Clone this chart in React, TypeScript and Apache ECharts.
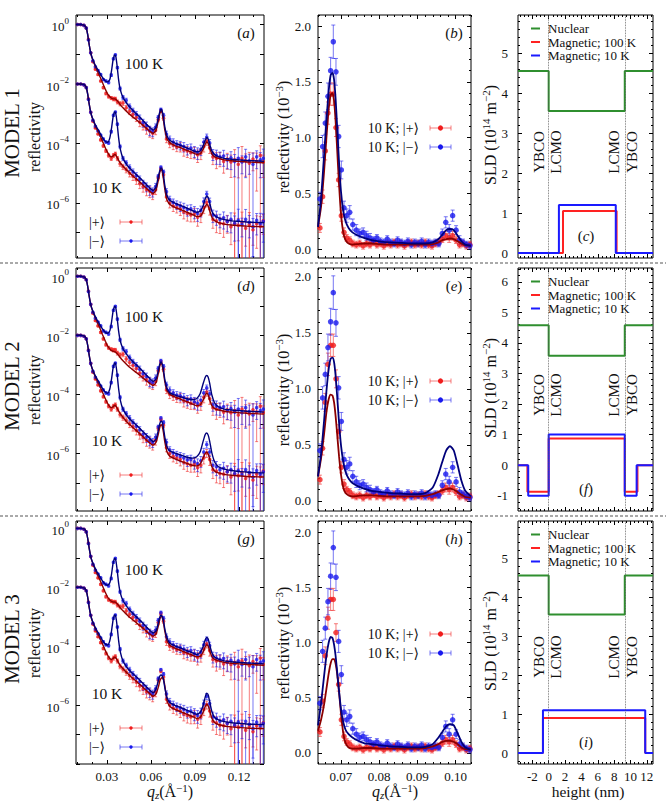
import React, { useEffect, useRef } from 'react';
import * as echarts from 'echarts';

const FONT = "'Liberation Serif', 'DejaVu Serif', 'DejaVu Sans', serif";

// ---------- measured reflectivity, log panels (log10 R) ----------
const Q_DATA = [
  0.0100, 0.0122, 0.0144, 0.0160, 0.0175, 0.0190, 0.0205, 0.0222, 0.0240, 0.0258,
  0.0276, 0.0294, 0.0312, 0.0330, 0.0345, 0.0358, 0.0372, 0.0390, 0.0410, 0.0432,
  0.0455, 0.0478, 0.0501, 0.0524, 0.0547, 0.0570, 0.0592, 0.0612, 0.0632, 0.0650,
  0.0668, 0.0686, 0.0706, 0.0728, 0.0752, 0.0776, 0.0800, 0.0824, 0.0848, 0.0872,
  0.0896, 0.0918, 0.0940, 0.0960, 0.0980, 0.1000, 0.1022, 0.1046, 0.1070, 0.1095,
  0.1120, 0.1145, 0.1170, 0.1195, 0.1220, 0.1245, 0.1270, 0.1295, 0.1320, 0.1345,
  0.1365,
];
const LOG_R_100K_PLUS = [
  0.00, 0.00, -0.03, -0.12, -0.50, -0.95, -1.25, -1.50, -1.68, -1.90,
  -2.12, -2.32, -2.42, -2.47, -2.50, -2.50, -2.60, -2.66, -2.64, -2.80,
  -2.92, -3.02, -3.12, -3.28, -3.38, -3.50, -3.58, -3.65, -3.55, -3.20,
  -2.90, -3.15, -3.85, -4.00, -4.05, -4.12, -4.10, -4.22, -4.25, -4.30,
  -4.28, -4.38, -4.32, -4.10, -3.92, -4.15, -4.45, -4.50, -4.48, -4.60,
  -4.52, -4.62, -4.55, -4.70, -4.50, -4.58, -4.66, -4.52, -4.60, -4.40,
  -4.62,
];
const LOG_R_100K_MINUS = [
  0.00, 0.00, -0.03, -0.12, -0.52, -0.95, -1.22, -1.42, -1.55, -1.68,
  -1.85, -1.90, -1.95, -1.70, -1.15, -1.02, -1.45, -2.15, -2.45, -2.55,
  -2.75, -2.90, -3.02, -3.15, -3.30, -3.40, -3.55, -3.60, -3.45, -3.12,
  -2.86, -3.05, -3.68, -3.85, -3.95, -4.02, -4.05, -4.10, -4.18, -4.15,
  -4.25, -4.30, -4.20, -3.95, -3.78, -3.98, -4.35, -4.40, -4.45, -4.42,
  -4.55, -4.48, -4.60, -4.50, -4.62, -4.45, -4.58, -4.70, -4.45, -4.55,
  -4.50,
];
const LOG_R_10K_PLUS = [
  0.00, 0.00, -0.03, -0.12, -0.50, -0.95, -1.25, -1.48, -1.68, -1.88,
  -2.08, -2.25, -2.40, -2.50, -2.40, -2.35, -2.50, -2.68, -2.78, -2.88,
  -3.00, -3.10, -3.22, -3.35, -3.45, -3.55, -3.60, -3.68, -3.55, -3.15,
  -2.85, -3.05, -3.80, -4.00, -4.10, -4.15, -4.20, -4.30, -4.35, -4.40,
  -4.35, -4.48, -4.40, -4.15, -3.98, -4.20, -4.55, -4.60, -4.68, -4.70,
  -4.62, -4.80, -4.70, -4.75, -4.65, -4.85, -4.72, -4.90, -4.70, -4.78,
  -4.60,
];
const LOG_R_10K_MINUS = [
  0.00, 0.00, -0.03, -0.12, -0.52, -0.95, -1.22, -1.42, -1.58, -1.72,
  -1.85, -1.95, -1.98, -1.60, -1.05, -0.94, -1.35, -2.10, -2.50, -2.65,
  -2.80, -2.95, -3.08, -3.20, -3.35, -3.45, -3.55, -3.62, -3.45, -3.10,
  -2.80, -2.95, -3.62, -3.88, -3.98, -4.05, -4.10, -4.15, -4.22, -4.20,
  -4.28, -4.35, -4.25, -3.95, -3.70, -3.95, -4.40, -4.45, -4.55, -4.50,
  -4.62, -4.55, -4.68, -4.58, -4.72, -4.55, -4.65, -4.80, -4.58, -4.70,
  -4.62,
];
// relative uncertainties (sigma / R)
const REL_ERR_100K_PLUS = [
  0.02, 0.02, 0.02, 0.02, 0.03, 0.03, 0.04, 0.05, 0.06, 0.07, 0.08, 0.10, 0.12,
  0.12, 0.14, 0.14, 0.15, 0.16, 0.18,
  0.20, 0.22, 0.25, 0.28, 0.30, 0.32, 0.35, 0.38, 0.35,
  0.30, 0.15, 0.12, 0.15,
  0.25, 0.28, 0.30, 0.30, 0.35, 0.38, 0.40, 0.38, 0.42, 0.45, 0.40,
  0.35, 0.28, 0.35,
  0.45, 0.55, 0.50, 0.60, 0.55, 0.70, 1.20, 0.65, 1.50, 0.70, 1.30, 0.60, 0.90, 1.10, 0.70,
];
const REL_ERR_100K_MINUS = [
  0.02, 0.02, 0.02, 0.02, 0.03, 0.03, 0.04, 0.05, 0.06, 0.07, 0.08, 0.09, 0.10,
  0.10, 0.08, 0.06, 0.08, 0.12, 0.16,
  0.18, 0.20, 0.22, 0.25, 0.28, 0.30, 0.32, 0.35, 0.33,
  0.28, 0.15, 0.12, 0.15,
  0.24, 0.26, 0.28, 0.30, 0.32, 0.35, 0.38, 0.36, 0.40, 0.42, 0.38,
  0.30, 0.25, 0.30,
  0.40, 0.50, 0.45, 0.55, 0.50, 0.60, 0.70, 1.30, 0.60, 0.80, 0.65, 1.40, 0.60, 0.75, 1.05,
];
const REL_ERR_10K_PLUS = [
  0.02, 0.02, 0.02, 0.02, 0.03, 0.03, 0.04, 0.05, 0.06, 0.07, 0.09, 0.11, 0.13,
  0.15, 0.16, 0.15, 0.16, 0.18, 0.20,
  0.22, 0.25, 0.28, 0.30, 0.32, 0.35, 0.38, 0.40, 0.38,
  0.32, 0.16, 0.12, 0.16,
  0.28, 0.32, 0.35, 0.35, 0.40, 0.42, 0.45, 0.42, 0.48, 0.50, 0.45,
  0.38, 0.30, 0.38,
  0.50, 0.60, 0.55, 0.65, 0.60, 0.75, 1.30, 0.70, 1.20, 0.75, 1.50, 0.70, 0.85, 1.10, 0.65,
];
const REL_ERR_10K_MINUS = [
  0.02, 0.02, 0.02, 0.02, 0.03, 0.03, 0.04, 0.05, 0.06, 0.07, 0.08, 0.09, 0.10,
  0.10, 0.08, 0.06, 0.08, 0.12, 0.16,
  0.18, 0.21, 0.24, 0.26, 0.28, 0.30, 0.33, 0.36, 0.34,
  0.28, 0.14, 0.11, 0.14,
  0.26, 0.28, 0.30, 0.32, 0.35, 0.38, 0.40, 0.38, 0.44, 0.46, 0.40,
  0.32, 0.24, 0.30,
  0.45, 0.50, 0.48, 0.58, 0.55, 0.65, 0.75, 1.35, 0.62, 1.15, 0.70, 0.90, 0.68, 1.25, 0.80,
];

// ---------- model fits, log panels (log10 R) ----------
const Q_FIT = [
  0.0090, 0.0120, 0.0140, 0.0150, 0.0160, 0.0170, 0.0180, 0.0190, 0.0200, 0.0215,
  0.0230, 0.0250, 0.0270, 0.0290, 0.0305, 0.0320, 0.0332, 0.0342, 0.0350, 0.0356,
  0.0362, 0.0370, 0.0380, 0.0392, 0.0410, 0.0440, 0.0470, 0.0500, 0.0530, 0.0560,
  0.0590, 0.0615, 0.0635, 0.0650, 0.0660, 0.0668, 0.0676, 0.0685, 0.0695, 0.0710,
  0.0730, 0.0760, 0.0800, 0.0840, 0.0880, 0.0910, 0.0935, 0.0955, 0.0970, 0.0980,
  0.0990, 0.1000, 0.1015, 0.1035, 0.1060, 0.1100, 0.1150, 0.1200, 0.1250, 0.1300,
  0.1370,
];
const FIT1_100K_PLUS = [
  0.00, 0.00, -0.01, -0.04, -0.12, -0.35, -0.68, -0.95, -1.13, -1.33,
  -1.50, -1.72, -1.95, -2.18, -2.33, -2.43, -2.48, -2.50, -2.50, -2.50,
  -2.52, -2.56, -2.62, -2.70, -2.80, -2.95, -3.08, -3.20, -3.32, -3.45,
  -3.58, -3.66, -3.55, -3.25, -3.00, -2.90, -2.95, -3.20, -3.55, -3.85,
  -3.98, -4.06, -4.14, -4.22, -4.30, -4.36, -4.35, -4.20, -4.02, -3.95,
  -4.00, -4.15, -4.35, -4.45, -4.50, -4.55, -4.58, -4.60, -4.62, -4.63,
  -4.65,
];
const FIT1_100K_MINUS = [
  0.00, 0.00, -0.01, -0.04, -0.12, -0.35, -0.68, -0.95, -1.12, -1.30,
  -1.45, -1.62, -1.78, -1.90, -1.93, -1.85, -1.55, -1.20, -1.05, -1.02,
  -1.10, -1.40, -1.85, -2.20, -2.45, -2.68, -2.85, -3.00, -3.14, -3.30,
  -3.45, -3.55, -3.45, -3.15, -2.95, -2.85, -2.90, -3.10, -3.45, -3.75,
  -3.90, -3.98, -4.06, -4.14, -4.22, -4.28, -4.25, -4.08, -3.88, -3.80,
  -3.85, -4.02, -4.25, -4.38, -4.44, -4.50, -4.53, -4.55, -4.57, -4.58,
  -4.60,
];
const FIT1_10K_PLUS = [
  0.00, 0.00, -0.01, -0.04, -0.12, -0.35, -0.68, -0.95, -1.13, -1.33,
  -1.50, -1.70, -1.92, -2.15, -2.30, -2.42, -2.45, -2.42, -2.38, -2.37,
  -2.40, -2.47, -2.56, -2.66, -2.76, -2.92, -3.06, -3.19, -3.32, -3.46,
  -3.60, -3.68, -3.56, -3.25, -2.98, -2.87, -2.92, -3.18, -3.55, -3.90,
  -4.05, -4.14, -4.22, -4.30, -4.38, -4.45, -4.45, -4.30, -4.12, -4.05,
  -4.10, -4.25, -4.48, -4.60, -4.66, -4.71, -4.74, -4.76, -4.78, -4.79,
  -4.80,
];
const FIT1_10K_MINUS = [
  0.00, 0.00, -0.01, -0.04, -0.12, -0.35, -0.68, -0.95, -1.12, -1.30,
  -1.45, -1.62, -1.80, -1.93, -1.96, -1.82, -1.48, -1.12, -0.97, -0.94,
  -1.02, -1.32, -1.80, -2.20, -2.50, -2.74, -2.90, -3.04, -3.18, -3.33,
  -3.48, -3.58, -3.46, -3.12, -2.92, -2.82, -2.86, -3.05, -3.42, -3.76,
  -3.92, -4.00, -4.08, -4.16, -4.25, -4.31, -4.28, -4.10, -3.86, -3.76,
  -3.82, -4.00, -4.28, -4.43, -4.50, -4.56, -4.60, -4.62, -4.64, -4.65,
  -4.66,
];
const FIT2_100K_PLUS = [
  0.00, 0.00, -0.01, -0.04, -0.12, -0.35, -0.68, -0.95, -1.13, -1.33,
  -1.50, -1.73, -1.97, -2.20, -2.36, -2.46, -2.52, -2.54, -2.55, -2.56,
  -2.58, -2.62, -2.68, -2.76, -2.86, -3.01, -3.14, -3.26, -3.38, -3.50,
  -3.62, -3.70, -3.60, -3.30, -3.05, -2.95, -3.00, -3.24, -3.58, -3.88,
  -4.00, -4.08, -4.16, -4.24, -4.32, -4.38, -4.36, -4.20, -4.02, -3.96,
  -4.02, -4.18, -4.38, -4.48, -4.53, -4.57, -4.60, -4.62, -4.64, -4.65,
  -4.67,
];
const FIT2_100K_MINUS = [
  0.00, 0.00, -0.01, -0.04, -0.12, -0.35, -0.68, -0.95, -1.12, -1.30,
  -1.45, -1.62, -1.78, -1.90, -1.93, -1.85, -1.55, -1.20, -1.05, -1.02,
  -1.10, -1.40, -1.85, -2.20, -2.45, -2.68, -2.85, -3.00, -3.14, -3.30,
  -3.45, -3.56, -3.48, -3.20, -2.98, -2.90, -2.95, -3.15, -3.50, -3.80,
  -3.95, -4.02, -4.08, -4.14, -4.18, -4.15, -3.98, -3.65, -3.42, -3.36,
  -3.42, -3.62, -4.02, -4.30, -4.42, -4.50, -4.53, -4.55, -4.57, -4.58,
  -4.60,
];
const FIT2_10K_PLUS = [
  0.00, 0.00, -0.01, -0.04, -0.12, -0.35, -0.68, -0.95, -1.13, -1.33,
  -1.50, -1.70, -1.92, -2.15, -2.30, -2.42, -2.45, -2.42, -2.38, -2.37,
  -2.40, -2.47, -2.56, -2.66, -2.78, -2.95, -3.09, -3.22, -3.36, -3.50,
  -3.64, -3.72, -3.62, -3.35, -3.12, -3.03, -3.06, -3.28, -3.62, -3.95,
  -4.10, -4.18, -4.26, -4.33, -4.40, -4.42, -4.36, -4.16, -4.00, -3.96,
  -4.02, -4.18, -4.45, -4.60, -4.66, -4.71, -4.74, -4.76, -4.78, -4.79,
  -4.80,
];
const FIT2_10K_MINUS = [
  0.00, 0.00, -0.01, -0.04, -0.12, -0.35, -0.68, -0.95, -1.12, -1.30,
  -1.45, -1.62, -1.80, -1.93, -1.96, -1.82, -1.48, -1.12, -0.97, -0.94,
  -1.02, -1.32, -1.80, -2.20, -2.50, -2.74, -2.90, -3.04, -3.18, -3.33,
  -3.48, -3.60, -3.52, -3.22, -3.00, -2.90, -2.93, -3.12, -3.46, -3.78,
  -3.92, -3.98, -4.05, -4.12, -4.16, -4.12, -3.95, -3.60, -3.36, -3.31,
  -3.38, -3.58, -3.98, -4.30, -4.45, -4.53, -4.58, -4.61, -4.63, -4.65,
  -4.66,
];
const FIT3_100K_PLUS = [
  0.00, 0.00, -0.01, -0.04, -0.12, -0.35, -0.68, -0.95, -1.13, -1.33,
  -1.50, -1.72, -1.95, -2.18, -2.33, -2.43, -2.48, -2.50, -2.50, -2.50,
  -2.52, -2.56, -2.62, -2.70, -2.80, -2.95, -3.08, -3.20, -3.32, -3.45,
  -3.58, -3.66, -3.58, -3.32, -3.10, -3.00, -3.00, -3.18, -3.50, -3.82,
  -3.98, -4.06, -4.14, -4.22, -4.30, -4.36, -4.35, -4.20, -4.02, -3.95,
  -4.00, -4.15, -4.35, -4.45, -4.50, -4.55, -4.58, -4.60, -4.62, -4.63,
  -4.65,
];
const FIT3_100K_MINUS = [
  0.00, 0.00, -0.01, -0.04, -0.12, -0.35, -0.68, -0.95, -1.12, -1.30,
  -1.45, -1.62, -1.78, -1.90, -1.93, -1.85, -1.55, -1.20, -1.05, -1.02,
  -1.10, -1.40, -1.85, -2.20, -2.45, -2.68, -2.85, -3.00, -3.14, -3.30,
  -3.45, -3.55, -3.48, -3.22, -3.02, -2.95, -2.98, -3.12, -3.42, -3.72,
  -3.90, -3.98, -4.06, -4.14, -4.22, -4.28, -4.22, -4.02, -3.78, -3.70,
  -3.76, -3.95, -4.22, -4.38, -4.44, -4.50, -4.53, -4.55, -4.57, -4.58,
  -4.60,
];
const FIT3_10K_PLUS = [
  0.00, 0.00, -0.01, -0.04, -0.12, -0.35, -0.68, -0.95, -1.13, -1.33,
  -1.50, -1.70, -1.92, -2.15, -2.30, -2.42, -2.45, -2.42, -2.38, -2.37,
  -2.40, -2.47, -2.56, -2.66, -2.76, -2.92, -3.06, -3.19, -3.32, -3.46,
  -3.60, -3.70, -3.62, -3.40, -3.20, -3.10, -3.07, -3.10, -3.35, -3.85,
  -4.05, -4.14, -4.22, -4.30, -4.38, -4.45, -4.42, -4.25, -4.05, -3.97,
  -4.02, -4.18, -4.45, -4.60, -4.66, -4.71, -4.74, -4.76, -4.78, -4.79,
  -4.80,
];
const FIT3_10K_MINUS = [
  0.00, 0.00, -0.01, -0.04, -0.12, -0.35, -0.68, -0.95, -1.12, -1.30,
  -1.45, -1.62, -1.80, -1.93, -1.96, -1.82, -1.48, -1.12, -0.97, -0.94,
  -1.02, -1.32, -1.80, -2.20, -2.50, -2.74, -2.90, -3.04, -3.18, -3.33,
  -3.48, -3.58, -3.45, -3.18, -3.02, -2.98, -3.00, -3.12, -3.42, -3.75,
  -3.92, -4.00, -4.08, -4.16, -4.25, -4.31, -4.25, -4.02, -3.72, -3.60,
  -3.65, -3.88, -4.22, -4.43, -4.50, -4.56, -4.60, -4.62, -4.64, -4.65,
  -4.66,
];

// ---------- 10 K data around the first Bragg peaks (units of 1e-3) ----------
const Q_LIN = [
  0.0645, 0.0652, 0.0659, 0.0666, 0.0673, 0.0680, 0.0687, 0.0694, 0.0701, 0.0708,
  0.0715, 0.0723, 0.0731, 0.0740, 0.0749, 0.0758, 0.0767, 0.0776, 0.0785, 0.0794,
  0.0803, 0.0812, 0.0821, 0.0830, 0.0839, 0.0848, 0.0857, 0.0866, 0.0875, 0.0884,
  0.0893, 0.0902, 0.0911, 0.0920, 0.0929, 0.0938, 0.0947, 0.0956, 0.0965, 0.0974,
  0.0983, 0.0992, 0.1001, 0.1010, 0.1019, 0.1028, 0.1037,
];
const LIN_10K_MINUS = [
  0.45, 0.92, 1.13, 1.37, 1.60, 1.86, 1.59, 1.01, 0.71, 0.37,
  0.30, 0.33, 0.22, 0.17, 0.14, 0.15, 0.12, 0.10, 0.08, 0.10,
  0.07, 0.06, 0.09, 0.06, 0.05, 0.08, 0.06, 0.05, 0.07, 0.04,
  0.06, 0.05, 0.07, 0.04, 0.06, 0.05, 0.06, 0.05, 0.14, 0.24,
  0.17, 0.30, 0.17, 0.08, 0.06, 0.04, 0.03,
];
const LIN_10K_PLUS = [
  0.19, 0.47, 0.88, 1.22, 1.39, 1.39, 1.09, 0.62, 0.30, 0.15,
  0.10, 0.08, 0.05, 0.04, 0.05, 0.03, 0.05, 0.04, 0.06, 0.04,
  0.05, 0.03, 0.05, 0.04, 0.06, 0.04, 0.05, 0.03, 0.05, 0.06,
  0.04, 0.05, 0.04, 0.06, 0.04, 0.03, 0.05, 0.06, 0.09, 0.12,
  0.10, 0.12, 0.08, 0.04, 0.05, 0.03, 0.04,
];
const LIN_ERR_MINUS = [
  0.06, 0.10, 0.10, 0.12, 0.12, 0.15, 0.12, 0.10, 0.08, 0.06,
  0.06, 0.06, 0.05, 0.05, 0.04, 0.04, 0.04, 0.04, 0.03, 0.03,
  0.03, 0.03, 0.03, 0.03, 0.03, 0.03, 0.03, 0.03, 0.03, 0.03,
  0.03, 0.03, 0.03, 0.03, 0.03, 0.03, 0.03, 0.03, 0.04, 0.05,
  0.05, 0.05, 0.04, 0.04, 0.03, 0.03, 0.03,
];
const LIN_ERR_PLUS = [
  0.04, 0.06, 0.08, 0.10, 0.10, 0.10, 0.08, 0.06, 0.05, 0.04,
  0.03, 0.03, 0.03, 0.03, 0.03, 0.03, 0.03, 0.03, 0.03, 0.03,
  0.03, 0.03, 0.03, 0.03, 0.03, 0.03, 0.03, 0.03, 0.03, 0.03,
  0.03, 0.03, 0.03, 0.03, 0.03, 0.03, 0.03, 0.03, 0.03, 0.04,
  0.04, 0.04, 0.03, 0.03, 0.03, 0.03, 0.03,
];
const Q_LINFIT = [
  0.0640, 0.0648, 0.0656, 0.0662, 0.0668, 0.0673, 0.0678, 0.0682, 0.0686, 0.0690,
  0.0695, 0.0700, 0.0706, 0.0712, 0.0720, 0.0730, 0.0745, 0.0760, 0.0780, 0.0800,
  0.0830, 0.0860, 0.0890, 0.0920, 0.0940, 0.0955, 0.0965, 0.0975, 0.0985, 0.0995,
  0.1005, 0.1015, 0.1025, 0.1040,
];
const LINFIT1_MINUS = [0.20, 0.45, 0.85, 1.15, 1.42, 1.56, 1.58, 1.52, 1.35, 1.10, 0.78, 0.52, 0.34, 0.25, 0.19, 0.15, 0.12, 0.10, 0.08, 0.07, 0.06, 0.055, 0.05, 0.05, 0.06, 0.09, 0.13, 0.17, 0.18, 0.17, 0.12, 0.07, 0.04, 0.03];
const LINFIT1_PLUS = [0.20, 0.38, 0.70, 1.00, 1.26, 1.38, 1.40, 1.33, 1.15, 0.90, 0.58, 0.32, 0.15, 0.08, 0.05, 0.04, 0.045, 0.05, 0.05, 0.045, 0.04, 0.04, 0.04, 0.04, 0.045, 0.06, 0.08, 0.09, 0.095, 0.09, 0.07, 0.05, 0.035, 0.03];
const LINFIT2_MINUS = [0.22, 0.42, 0.72, 0.98, 1.18, 1.27, 1.28, 1.24, 1.12, 0.94, 0.70, 0.50, 0.35, 0.26, 0.20, 0.16, 0.13, 0.11, 0.09, 0.08, 0.07, 0.065, 0.06, 0.07, 0.12, 0.24, 0.35, 0.45, 0.49, 0.45, 0.32, 0.18, 0.09, 0.04];
const LINFIT2_PLUS = [0.22, 0.38, 0.60, 0.79, 0.91, 0.95, 0.94, 0.88, 0.76, 0.60, 0.40, 0.24, 0.12, 0.07, 0.05, 0.04, 0.045, 0.05, 0.05, 0.045, 0.04, 0.04, 0.04, 0.045, 0.06, 0.08, 0.095, 0.105, 0.11, 0.10, 0.08, 0.055, 0.035, 0.03];
const LINFIT3_MINUS = [0.25, 0.45, 0.70, 0.88, 1.00, 1.05, 1.04, 0.98, 0.88, 0.74, 0.56, 0.40, 0.28, 0.21, 0.17, 0.14, 0.11, 0.09, 0.08, 0.07, 0.06, 0.055, 0.05, 0.055, 0.08, 0.14, 0.19, 0.24, 0.26, 0.25, 0.18, 0.10, 0.05, 0.03];
const LINFIT3_PLUS = [0.20, 0.30, 0.44, 0.58, 0.72, 0.81, 0.85, 0.85, 0.81, 0.72, 0.55, 0.36, 0.18, 0.09, 0.05, 0.04, 0.04, 0.045, 0.045, 0.04, 0.04, 0.04, 0.04, 0.045, 0.06, 0.08, 0.10, 0.11, 0.11, 0.10, 0.08, 0.05, 0.035, 0.03];

// ---------- SLD depth profiles (step values start at each height) ----------
const NUC_X = [-3.75, 0, 9.3, 12.75];
const NUC_1 = [4.55, 3.55, 4.55, 4.55];
const NUC_2 = [4.58, 3.58, 4.58, 4.58];
const NUC_3 = [4.55, 3.55, 4.55, 4.55];
const MAG1_100K_X = [-3.75, 1.75, 8.3, 12.75];
const MAG1_100K = [0, 1.05, 0, 0];
const MAG1_10K_X = [-3.75, 1.25, 8.2, 12.75];
const MAG1_10K = [0, 1.2, 0, 0];
const MAG2_100K_X = [-3.75, -2.6, 0, 9.3, 10.85, 12.75];
const MAG2_100K = [0, -0.87, 0.87, -0.87, 0, 0];
const MAG2_10K_X = [-3.75, -2.5, 0, 9.3, 10.75, 12.75];
const MAG2_10K = [0, -1.0, 1.0, -1.0, 0, 0];
const MAG3_100K_X = [-3.75, -0.7, 11.8, 12.75];
const MAG3_100K = [0, 0.9, 0, 0];
const MAG3_10K_X = [-3.75, -0.7, 11.8, 12.75];
const MAG3_10K = [0, 1.1, 0, 0];
const INTERFACES = [0, 9.3];

// ---------- tick labels ----------
const LOG_DECADE_LABELS = [-6, -4, -2, 0];
const Q_TICK_LABELS = [0.03, 0.06, 0.09, 0.12];
const QZOOM_TICK_LABELS = [0.07, 0.08, 0.09, 0.10];
const R_TICK_LABELS = [0, 0.5, 1.0, 1.5, 2.0];
const HEIGHT_TICK_LABELS = [-2, 0, 2, 4, 6, 8, 10, 12];

// ---------- layout ----------
const COLS = [
  { left: 76, width: 188 },
  { left: 318, width: 153 },
  { left: 518, width: 135 },
];
const ROW_TOPS = [15, 268, 521];
const ROW_H = 243;
const LOG_Y = [[-7.85, 0.32], [-7.95, 0.28], [-8.0, 0.25]];
const LIN_Y = [[-0.08, 2.1], [-0.09, 2.08], [-0.1, 2.1]];
const SLD_Y = [[-0.125, 5.95], [-1.5, 6.45], [-0.28, 5.95]];
const Q_RANGE = [0.009, 0.137];
const QZ_RANGE = [0.064, 0.104];
const H_RANGE = [-3.75, 12.75];

const RED = '#f01c1c';
const RED_BAR = 'rgba(240,40,40,0.6)';
const BLUE = '#1818ee';
const BLUE_BAR = 'rgba(30,30,235,0.6)';
const FIT_RED = '#8b0000';
const FIT_BLUE = '#00007a';
const SLD_GREEN = '#2f8f2f';
const SLD_RED = '#ff2222';
const SLD_BLUE = '#1a1aff';
const INK = '#111';

function steps(a: number, b: number, s: number) {
  const out: number[] = [];
  const n = Math.round((b - a) / s);
  for (let i = 0; i <= n; i++) out.push(+(a + i * s).toFixed(6));
  return out;
}
function without(list: number[], major: number[]) {
  return list.filter((v) => !major.some((m) => Math.abs(m - v) < 1e-9));
}
const zip = (xs: number[], ys: number[]) => xs.map((x, i) => [x, ys[i]]);

const tickRich = {
  b: { fontFamily: FONT, fontSize: 13, color: INK, lineHeight: 17, verticalAlign: 'bottom' },
  e: { fontFamily: FONT, fontSize: 9, color: INK, lineHeight: 9, verticalAlign: 'top' },
};

function makeAxis(gridIndex: number, position: string, spec: any, ticks: number[], len: number, labels: number[] | null) {
  return {
    type: 'value',
    gridIndex,
    position,
    min: spec.min,
    max: spec.max,
    axisLine: { show: false, onZero: false },
    splitLine: { show: false },
    axisTick: {
      show: ticks.length > 0,
      inside: true,
      length: len,
      customValues: ticks,
      lineStyle: { color: '#000', width: 1 },
    },
    axisLabel: labels
      ? {
          show: true,
          customValues: labels,
          formatter: spec.fmt,
          margin: spec.margin,
          fontFamily: FONT,
          fontSize: 13,
          lineHeight: 14,
          color: INK,
          rich: spec.rich,
          showMinLabel: true,
          showMaxLabel: true,
          hideOverlap: false,
        }
      : { show: false },
  };
}

function buildOption() {
  const grid: any[] = [];
  const xAxis: any[] = [];
  const yAxis: any[] = [];
  const series: any[] = [];
  const graphic: any[] = [];

  function addPanel(row: number, col: number, xs: any, ys: any, xLabels: boolean) {
    const g = grid.length;
    grid.push({
      left: COLS[col].left,
      top: ROW_TOPS[row],
      width: COLS[col].width,
      height: ROW_H,
      show: true,
      borderColor: '#000',
      borderWidth: 1,
      backgroundColor: 'transparent',
      containLabel: false,
      outerBoundsMode: 'none',
    });
    const xi = xAxis.length;
    xAxis.push(makeAxis(g, 'bottom', xs, xs.major, 4, xLabels ? xs.labels : null));
    xAxis.push(makeAxis(g, 'bottom', xs, xs.minor, 2, null));
    xAxis.push(makeAxis(g, 'top', xs, xs.major, 4, null));
    xAxis.push(makeAxis(g, 'top', xs, xs.minor, 2, null));
    const yi = yAxis.length;
    yAxis.push(makeAxis(g, 'left', ys, ys.major, 4, ys.labels));
    yAxis.push(makeAxis(g, 'left', ys, ys.minor, 2, null));
    yAxis.push(makeAxis(g, 'right', ys, ys.major, 4, null));
    yAxis.push(makeAxis(g, 'right', ys, ys.minor, 2, null));
    return { xi, yi };
  }

  function errSeries(xi: number, yi: number, data: number[][], color: string, w: number) {
    return {
      type: 'custom',
      xAxisIndex: xi,
      yAxisIndex: yi,
      silent: true,
      z: 2,
      data,
      renderItem: (_p: any, api: any) => {
        const x = api.value(0);
        const a = api.coord([x, api.value(1)]);
        const b = api.coord([x, api.value(2)]);
        const st = { stroke: color, lineWidth: 1 };
        const children: any[] = [
          { type: 'line', shape: { x1: a[0], y1: a[1], x2: b[0], y2: b[1] }, style: st },
          { type: 'line', shape: { x1: b[0] - w, y1: b[1], x2: b[0] + w, y2: b[1] }, style: st },
        ];
        if (api.value(3)) {
          children.push({ type: 'line', shape: { x1: a[0] - w, y1: a[1], x2: a[0] + w, y2: a[1] }, style: st });
        }
        return { type: 'group', children };
      },
    };
  }
  const scatter = (xi: number, yi: number, data: number[][], color: string, size: number) => ({
    type: 'scatter', xAxisIndex: xi, yAxisIndex: yi, data, symbol: 'circle', symbolSize: size,
    itemStyle: { color }, silent: true, z: 3,
  });
  const fitLine = (xi: number, yi: number, data: number[][], color: string, width: number) => ({
    type: 'line', xAxisIndex: xi, yAxisIndex: yi, data, symbol: 'none', showSymbol: false, smooth: 0.2,
    lineStyle: { color, width }, silent: true, z: 4,
  });
  const stepLine = (xi: number, yi: number, data: number[][], color: string, extra?: any) => ({
    type: 'line', xAxisIndex: xi, yAxisIndex: yi, data, step: 'end', symbol: 'none', showSymbol: false,
    lineStyle: { color, width: 2 }, silent: true, z: 3, ...(extra || {}),
  });

  function logErr(v: number[], rel: number[], offset: number, ymin: number) {
    return Q_DATA.map((q, i) => {
      const c = v[i] + offset;
      const hi = c + Math.log10(1 + rel[i]);
      let lo = rel[i] < 1 ? c + Math.log10(1 - rel[i]) : -Infinity;
      let cap = 1;
      if (lo < ymin) { lo = ymin; cap = 0; }
      return [q, lo, hi, cap];
    });
  }
  const logPts = (v: number[], offset: number) => Q_DATA.map((q, i) => [q, v[i] + offset]);

  const LOG_FITS = [
    [FIT1_100K_PLUS, FIT1_100K_MINUS, FIT1_10K_PLUS, FIT1_10K_MINUS],
    [FIT2_100K_PLUS, FIT2_100K_MINUS, FIT2_10K_PLUS, FIT2_10K_MINUS],
    [FIT3_100K_PLUS, FIT3_100K_MINUS, FIT3_10K_PLUS, FIT3_10K_MINUS],
  ];
  const LIN_FITS = [
    [LINFIT1_PLUS, LINFIT1_MINUS],
    [LINFIT2_PLUS, LINFIT2_MINUS],
    [LINFIT3_PLUS, LINFIT3_MINUS],
  ];
  const SLD = [
    { nuc: NUC_1, m100x: MAG1_100K_X, m100: MAG1_100K, m10x: MAG1_10K_X, m10: MAG1_10K },
    { nuc: NUC_2, m100x: MAG2_100K_X, m100: MAG2_100K, m10x: MAG2_10K_X, m10: MAG2_10K },
    { nuc: NUC_3, m100x: MAG3_100K_X, m100: MAG3_100K, m10x: MAG3_10K_X, m10: MAG3_10K },
  ];
  const LETTERS = [['a', 'b', 'c'], ['d', 'e', 'f'], ['g', 'h', 'i']];
  const YBCO_Y = [137, 127, 136];

  const qMajor = Q_TICK_LABELS;
  const qzMajor = QZOOM_TICK_LABELS;
  const hMajor = HEIGHT_TICK_LABELS;

  for (let r = 0; r < 3; r++) {
    const T = ROW_TOPS[r];
    const bottomRow = r === 2;

    // ---- log reflectivity panel ----
    const [lmin, lmax] = LOG_Y[r];
    const decades = steps(Math.ceil(lmin), Math.floor(lmax), 1);
    const A = addPanel(r, 0,
      { min: Q_RANGE[0], max: Q_RANGE[1], major: qMajor, minor: without(steps(0.01, 0.13, 0.01), qMajor), labels: qMajor, fmt: (v: number) => v.toFixed(2), margin: 5 },
      { min: lmin, max: lmax, major: decades, minor: [], labels: LOG_DECADE_LABELS, margin: 7, rich: tickRich,
        fmt: (v: number) => `{b|10}{e|${v === 0 ? '0' : '\u2212' + Math.abs(v)}}` },
      bottomRow);
    series.push(errSeries(A.xi, A.yi, [...logErr(LOG_R_100K_PLUS, REL_ERR_100K_PLUS, 0, lmin), ...logErr(LOG_R_10K_PLUS, REL_ERR_10K_PLUS, -2, lmin)], RED_BAR, 1.5));
    series.push(scatter(A.xi, A.yi, [...logPts(LOG_R_100K_PLUS, 0), ...logPts(LOG_R_10K_PLUS, -2)], RED, 3.6));
    series.push(errSeries(A.xi, A.yi, [...logErr(LOG_R_100K_MINUS, REL_ERR_100K_MINUS, 0, lmin), ...logErr(LOG_R_10K_MINUS, REL_ERR_10K_MINUS, -2, lmin)], BLUE_BAR, 1.5));
    series.push(scatter(A.xi, A.yi, [...logPts(LOG_R_100K_MINUS, 0), ...logPts(LOG_R_10K_MINUS, -2)], BLUE, 3.6));
    const F = LOG_FITS[r];
    series.push(fitLine(A.xi, A.yi, Q_FIT.map((q, i) => [q, F[0][i]]), FIT_RED, 1.4));
    series.push(fitLine(A.xi, A.yi, Q_FIT.map((q, i) => [q, F[2][i] - 2]), FIT_RED, 1.4));
    series.push(fitLine(A.xi, A.yi, Q_FIT.map((q, i) => [q, F[1][i]]), FIT_BLUE, 1.4));
    series.push(fitLine(A.xi, A.yi, Q_FIT.map((q, i) => [q, F[3][i] - 2]), FIT_BLUE, 1.4));

    // ---- linear zoom panel ----
    const [ymin2, ymax2] = LIN_Y[r];
    const B = addPanel(r, 1,
      { min: QZ_RANGE[0], max: QZ_RANGE[1], major: qzMajor, minor: without(steps(0.064, 0.104, 0.002), qzMajor), labels: qzMajor, fmt: (v: number) => v.toFixed(2), margin: 5 },
      { min: ymin2, max: ymax2, major: R_TICK_LABELS, minor: without(steps(0, 2.1, 0.1), R_TICK_LABELS), labels: R_TICK_LABELS, fmt: (v: number) => v.toFixed(1), margin: 7 },
      bottomRow);
    const linErr = (v: number[], e: number[]) => Q_LIN.map((q, i) => [q, v[i] - e[i], v[i] + e[i], 1]);
    series.push(errSeries(B.xi, B.yi, linErr(LIN_10K_PLUS, LIN_ERR_PLUS), RED_BAR, 2));
    series.push(scatter(B.xi, B.yi, zip(Q_LIN, LIN_10K_PLUS), RED, 5.5));
    series.push(errSeries(B.xi, B.yi, linErr(LIN_10K_MINUS, LIN_ERR_MINUS), BLUE_BAR, 2));
    series.push(scatter(B.xi, B.yi, zip(Q_LIN, LIN_10K_MINUS), BLUE, 5.5));
    series.push(fitLine(B.xi, B.yi, zip(Q_LINFIT, LIN_FITS[r][0]), FIT_RED, 1.8));
    series.push(fitLine(B.xi, B.yi, zip(Q_LINFIT, LIN_FITS[r][1]), FIT_BLUE, 1.8));

    // ---- SLD panel ----
    const [smin, smax] = SLD_Y[r];
    const sMajor = steps(Math.ceil(smin), Math.floor(smax), 1);
    const C = addPanel(r, 2,
      { min: H_RANGE[0], max: H_RANGE[1], major: hMajor, minor: without(steps(-3.5, 12.5, 0.5), hMajor), labels: hMajor, fmt: (v: number) => (v < 0 ? '-' + Math.abs(v) : String(v)), margin: 5 },
      { min: smin, max: smax, major: sMajor, minor: without(steps(Math.ceil(smin * 5) / 5, Math.floor(smax * 5) / 5, 0.2), sMajor), labels: sMajor,
        fmt: (v: number) => (v < 0 ? '-' + Math.abs(v) : String(v)), margin: 10 },
      bottomRow);
    const S = SLD[r];
    series.push(stepLine(C.xi, C.yi, zip(NUC_X, S.nuc), SLD_GREEN, {
      markLine: {
        silent: true, symbol: ['none', 'none'], label: { show: false },
        lineStyle: { type: 'dotted', color: '#555', width: 0.8 },
        data: INTERFACES.map((x) => ({ xAxis: x })),
      },
    }));
    series.push(stepLine(C.xi, C.yi, zip(S.m100x, S.m100), SLD_RED));
    series.push(stepLine(C.xi, C.yi, zip(S.m10x, S.m10), SLD_BLUE));

    // ---- texts and legends ----
    const txt = (x: number, y: number, text: string, size: number, opts: any = {}) => ({
      type: 'text', x, y, rotation: opts.rotation || 0, silent: true, z: 10,
      style: {
        text, fontFamily: FONT, fontSize: size, fill: INK, lineHeight: opts.lineHeight,
        align: opts.align || 'center', verticalAlign: 'middle', rich: opts.rich,
      },
    });
    const titleRich = {
      n: { fontFamily: FONT, fontSize: 16, fill: INK, lineHeight: 20, verticalAlign: 'middle' },
      s: { fontFamily: FONT, fontSize: 11, fill: INK, lineHeight: 10, verticalAlign: 'top' },
    };
    const letterRich = {
      n: { fontFamily: FONT, fontSize: 15, fill: INK },
      i: { fontFamily: FONT, fontSize: 15, fill: INK, fontStyle: 'italic' },
    };
    const rot = Math.PI / 2;
    graphic.push(txt(12, T + 118, `MODEL ${r + 1}`, 21, { rotation: rot }));
    graphic.push(txt(34, T + 122, 'reflectivity', 16, { rotation: rot }));
    graphic.push(txt(283, T + 122, '{n|reflectivity (10}{s|\u22123}{n|)}', 16, { rotation: rot, rich: titleRich }));
    graphic.push(txt(490, T + 120, '{n|SLD (10}{s|14}{n| m}{s|\u22122}{n|)}', 16, { rotation: rot, rich: titleRich }));

    graphic.push(txt(246, T + 18, `{n|(}{i|${LETTERS[r][0]}}{n|)}`, 15, { rich: letterRich }));
    graphic.push(txt(454, T + 18, `{n|(}{i|${LETTERS[r][1]}}{n|)}`, 15, { rich: letterRich }));
    graphic.push(txt(586, T + 221, `{n|(}{i|${LETTERS[r][2]}}{n|)}`, 15, { rich: letterRich }));

    graphic.push(txt(144, T + 48, '100 K', 15.5));
    graphic.push(txt(107, T + 172, '10 K', 15.5));

    // error-bar legend handles
    const handle = (x1: number, x2: number, y: number, color: string, dot: string, r0: number) => [
      { type: 'line', silent: true, z: 10, shape: { x1, y1: y, x2, y2: y }, style: { stroke: color, lineWidth: 1 } },
      { type: 'line', silent: true, z: 10, shape: { x1, y1: y - 2.5, x2: x1, y2: y + 2.5 }, style: { stroke: color, lineWidth: 1 } },
      { type: 'line', silent: true, z: 10, shape: { x1: x2, y1: y - 2.5, x2, y2: y + 2.5 }, style: { stroke: color, lineWidth: 1 } },
      { type: 'circle', silent: true, z: 11, shape: { cx: (x1 + x2) / 2, cy: y, r: r0 }, style: { fill: dot } },
    ];
    graphic.push(txt(97, T + 207, '|+\u27E9', 14, { lineHeight: 16 }));
    graphic.push(txt(97, T + 226, '|\u2212\u27E9', 14, { lineHeight: 16 }));
    graphic.push(...handle(120, 142, T + 207, RED_BAR, RED, 1.7));
    graphic.push(...handle(120, 142, T + 226, BLUE_BAR, BLUE, 1.7));

    graphic.push(txt(419, T + 113, '10 K; |+\u27E9', 14, { align: 'right', lineHeight: 16 }));
    graphic.push(txt(419, T + 132, '10 K; |\u2212\u27E9', 14, { align: 'right', lineHeight: 16 }));
    graphic.push(...handle(430, 451, T + 113, RED_BAR, RED, 2.6));
    graphic.push(...handle(430, 451, T + 132, BLUE_BAR, BLUE, 2.6));

    // SLD legend
    const legendRows: [string, string, number][] = [
      ['Nuclear', SLD_GREEN, 13.5],
      ['Magnetic; 100 K', SLD_RED, 27],
      ['Magnetic; 10 K', SLD_BLUE, 40.5],
    ];
    legendRows.forEach(([label, color, dy]) => {
      graphic.push({ type: 'line', silent: true, z: 10, shape: { x1: 531, y1: T + dy, x2: 540, y2: T + dy }, style: { stroke: color, lineWidth: 2 } });
      graphic.push(txt(548, T + dy, label, 13, { align: 'left', lineHeight: 13 }));
    });

    // layer names beside the interfaces
    const yy = T + YBCO_Y[r];
    graphic.push(txt(539, yy, 'YBCO', 15, { rotation: rot, lineHeight: 14 }));
    graphic.push(txt(555.5, yy, 'LCMO', 15, { rotation: rot, lineHeight: 14 }));
    graphic.push(txt(614, yy, 'LCMO', 15, { rotation: rot, lineHeight: 14 }));
    graphic.push(txt(632, yy, 'YBCO', 15, { rotation: rot, lineHeight: 14 }));

    if (bottomRow) {
      const qRich = {
        n: { fontFamily: FONT, fontSize: 16, fill: INK, lineHeight: 18, verticalAlign: 'middle' },
        i: { fontFamily: FONT, fontSize: 16, fill: INK, lineHeight: 18, verticalAlign: 'middle', fontStyle: 'italic' },
        b: { fontFamily: FONT, fontSize: 11, fill: INK, lineHeight: 9, verticalAlign: 'bottom', fontStyle: 'italic' },
        s: { fontFamily: FONT, fontSize: 11, fill: INK, lineHeight: 9, verticalAlign: 'top' },
      };
      const qTitle = '{i|q}{b|z}{n|(\u00C5}{s|\u22121}{n|)}';
      graphic.push(txt(170, 791, qTitle, 16, { rich: qRich }));
      graphic.push(txt(395, 791, qTitle, 16, { rich: qRich }));
      graphic.push(txt(588, 791, 'height (nm)', 15.5, { lineHeight: 15 }));
    }
  }

  // dashed separators between the models
  [263, 516].forEach((y) => {
    graphic.push({
      type: 'line', silent: true, z: 10,
      shape: { x1: 0, y1: y, x2: 666, y2: y },
      style: { stroke: '#555', lineWidth: 1, lineDash: [3, 2] },
    });
  });

  return {
    animation: false,
    backgroundColor: '#fff',
    grid,
    xAxis,
    yAxis,
    series,
    graphic,
  };
}

export default function App() {
  const ref = useRef<HTMLDivElement>(null);
  useEffect(() => {
    if (!ref.current) return;
    const chart = echarts.init(ref.current, null, { renderer: 'svg' });
    chart.setOption(buildOption() as any);
    return () => chart.dispose();
  }, []);
  return (
    <div
      ref={ref}
      style={{ position: 'absolute', left: 0, top: 0, width: 666, height: 801, background: '#fff' }}
    />
  );
}
